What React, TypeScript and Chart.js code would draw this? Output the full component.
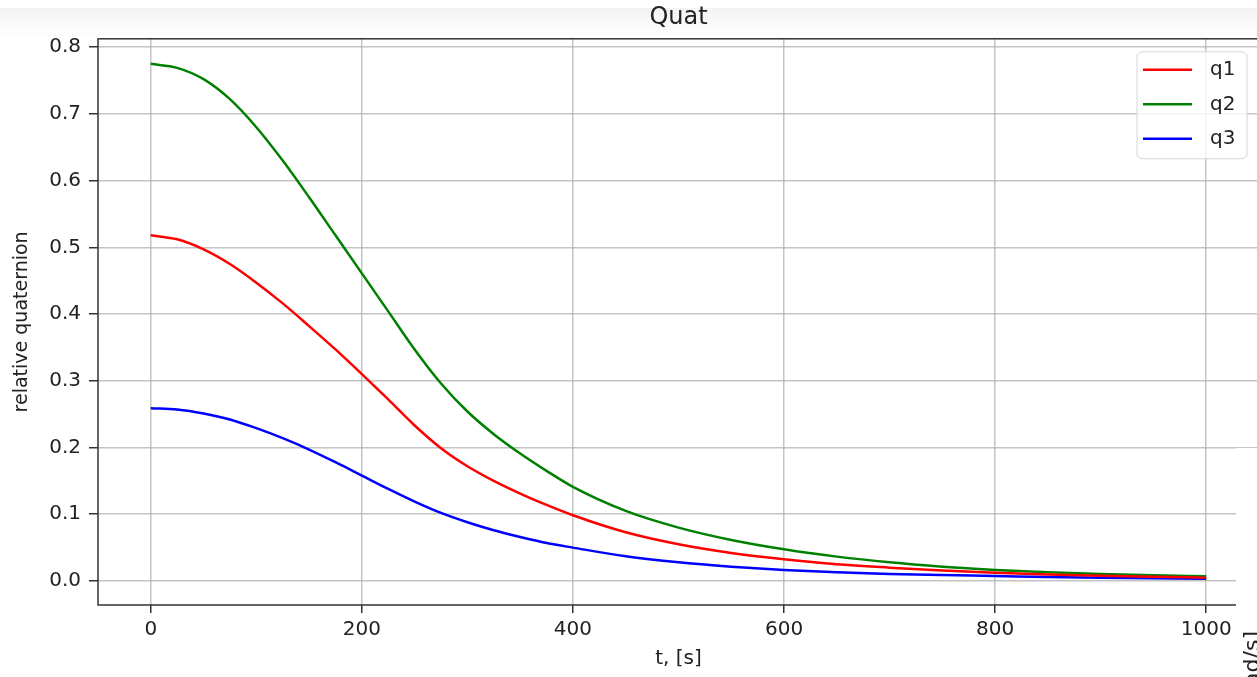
import React, { useEffect, useRef } from "react";
import { Chart, registerables } from "chart.js";

Chart.register(...registerables);

const T = [0, 25, 50, 75, 100, 125, 150, 175, 200, 225, 250, 275, 300, 325, 350, 375, 400, 450, 500, 550, 600, 650, 700, 750, 800, 850, 900, 950, 1000];
const Q1 = [0.518, 0.512, 0.497, 0.475, 0.447, 0.416, 0.382, 0.347, 0.31, 0.272, 0.233, 0.199, 0.172, 0.15, 0.131, 0.114, 0.0985, 0.073, 0.055, 0.042, 0.0325, 0.025, 0.02, 0.0158, 0.0125, 0.0098, 0.0078, 0.0062, 0.005];
const Q2 = [0.775, 0.769, 0.752, 0.722, 0.68, 0.63, 0.575, 0.518, 0.461, 0.404, 0.347, 0.296, 0.254, 0.22, 0.191, 0.165, 0.141, 0.105, 0.08, 0.0615, 0.0475, 0.0365, 0.028, 0.0215, 0.0165, 0.013, 0.0103, 0.0085, 0.0072];
const Q3 = [0.259, 0.257, 0.251, 0.242, 0.229, 0.214, 0.197, 0.178, 0.158, 0.138, 0.119, 0.102, 0.088, 0.076, 0.066, 0.057, 0.05, 0.037, 0.028, 0.0215, 0.0165, 0.013, 0.0105, 0.0088, 0.0075, 0.006, 0.005, 0.0042, 0.0035];
const SERIES_LABELS = ["q1", "q2", "q3"];
const SERIES_COLORS = ["#ff0000", "#008000", "#0000ff"];
const X_TICKS = [0, 200, 400, 600, 800, 1000];
const Y_TICKS = [0, 0.1, 0.2, 0.3, 0.4, 0.5, 0.6, 0.7, 0.8];
const TITLE = "Quat";
const X_LABEL = "t, [s]";
const Y_LABEL = "relative quaternion";
const NEIGHBOR_LABEL = "ω, [rad/s]";

const FONT = "'DejaVu Sans', sans-serif";

const decorPlugin = {
  id: "decor",
  beforeDraw(chart: any) {
    const { ctx, width, height } = chart;
    ctx.save();
    ctx.fillStyle = "#ffffff";
    ctx.fillRect(0, 0, width, height);
    const g = ctx.createLinearGradient(0, 8, 0, 38);
    g.addColorStop(0, "#f3f3f3");
    g.addColorStop(1, "#ffffff");
    ctx.fillStyle = g;
    ctx.fillRect(0, 8, width, 30);
    ctx.restore();
  },
  afterDraw(chart: any) {
    const { ctx, chartArea } = chart;
    const { left, right, top, bottom } = chartArea;
    ctx.save();
    // frame
    ctx.strokeStyle = "#333333";
    ctx.lineWidth = 1.5;
    ctx.strokeRect(left, top, right - left, bottom - top);

    // legend
    const bx = right - 122;
    const by = top + 13;
    const bw = 110;
    const bh = 107;
    ctx.beginPath();
    ctx.roundRect(bx, by, bw, bh, 5);
    ctx.fillStyle = "rgba(255,255,255,0.8)";
    ctx.fill();
    ctx.strokeStyle = "#d6d6d6";
    ctx.lineWidth = 1;
    ctx.stroke();
    chart.data.datasets.forEach((ds: any, i: number) => {
      const y = by + 18 + i * 34.5;
      ctx.strokeStyle = ds.borderColor;
      ctx.lineWidth = 2.5;
      ctx.beginPath();
      ctx.moveTo(bx + 6, y);
      ctx.lineTo(bx + 55, y);
      ctx.stroke();
      ctx.fillStyle = "#222222";
      ctx.font = `20px ${FONT}`;
      ctx.textAlign = "left";
      ctx.textBaseline = "middle";
      ctx.fillText(ds.label, bx + 73, y);
    });

    // neighbouring panel overlap (bottom-right)
    ctx.fillStyle = "#ffffff";
    ctx.fillRect(1236, 448, 60, 300);
    ctx.translate(1253, 631);
    ctx.rotate(-Math.PI / 2);
    ctx.fillStyle = "#222222";
    ctx.font = `22px ${FONT}`;
    ctx.textAlign = "right";
    ctx.textBaseline = "middle";
    ctx.fillText(NEIGHBOR_LABEL, 0, 0);
    ctx.restore();
  },
};

export default function App() {
  const ref = useRef<HTMLCanvasElement>(null);

  useEffect(() => {
    if (!ref.current) return;
    const mk = (arr: number[]) => T.map((t, i) => ({ x: t, y: arr[i] }));
    const chart = new Chart(ref.current, {
      type: "line",
      data: {
        datasets: [Q1, Q2, Q3].map((arr, i) => ({
          label: SERIES_LABELS[i],
          data: mk(arr),
          borderColor: SERIES_COLORS[i],
          backgroundColor: SERIES_COLORS[i],
          borderWidth: 2.5,
          pointRadius: 0,
          cubicInterpolationMode: "monotone" as const,
          fill: false,
        })),
      },
      options: {
        animation: false,
        responsive: false,
        devicePixelRatio: 1,
        layout: { padding: { left: 0, right: 11, top: 0, bottom: 0 } },
        plugins: {
          legend: { display: false },
          tooltip: { enabled: false },
          title: {
            display: true,
            text: TITLE,
            fullSize: false,
            color: "#222222",
            font: { family: FONT, size: 24, weight: "normal" as const },
            padding: { top: 3, bottom: 7 },
          },
        },
        scales: {
          x: {
            type: "linear",
            min: -50,
            max: 1050,
            afterBuildTicks: (s: any) => {
              s.ticks = X_TICKS.map((v) => ({ value: v }));
            },
            afterFit: (s: any) => {
              s.height = 72;
            },
            ticks: {
              color: "#222222",
              font: { family: FONT, size: 20 },
              padding: 5,
              maxRotation: 0,
              callback: (v: any) => String(v),
            },
            grid: {
              color: "rgba(176,176,176,0.75)",
              lineWidth: 1.5,
              tickColor: "#333333",
              tickLength: 8,
              tickWidth: 1.5,
            },
            border: { display: false },
            title: {
              display: true,
              text: X_LABEL,
              color: "#222222",
              font: { family: FONT, size: 20 },
              padding: { top: 0, bottom: 6 },
            },
          },
          y: {
            type: "linear",
            min: -0.036,
            max: 0.8125,
            afterBuildTicks: (s: any) => {
              s.ticks = Y_TICKS.map((v) => ({ value: v }));
            },
            afterFit: (s: any) => {
              s.width = 98;
            },
            ticks: {
              color: "#222222",
              font: { family: FONT, size: 20 },
              padding: 8,
              callback: (v: any) => Number(v).toFixed(1),
            },
            grid: {
              color: "rgba(176,176,176,0.75)",
              lineWidth: 1.5,
              tickColor: "#333333",
              tickLength: 9,
              tickWidth: 1.5,
            },
            border: { display: false },
            title: {
              display: true,
              text: Y_LABEL,
              color: "#222222",
              font: { family: FONT, size: 19 },
              padding: { top: 11, bottom: 0 },
            },
          },
        },
      },
      plugins: [decorPlugin],
    } as any);
    return () => chart.destroy();
  }, []);

  return (
    <div style={{ position: "fixed", left: 0, top: 0, width: 1257, height: 677, overflow: "hidden", background: "#fff" }}>
      <canvas ref={ref} width={1270} height={677} style={{ display: "block", width: 1270, height: 677 }} />
    </div>
  );
}
